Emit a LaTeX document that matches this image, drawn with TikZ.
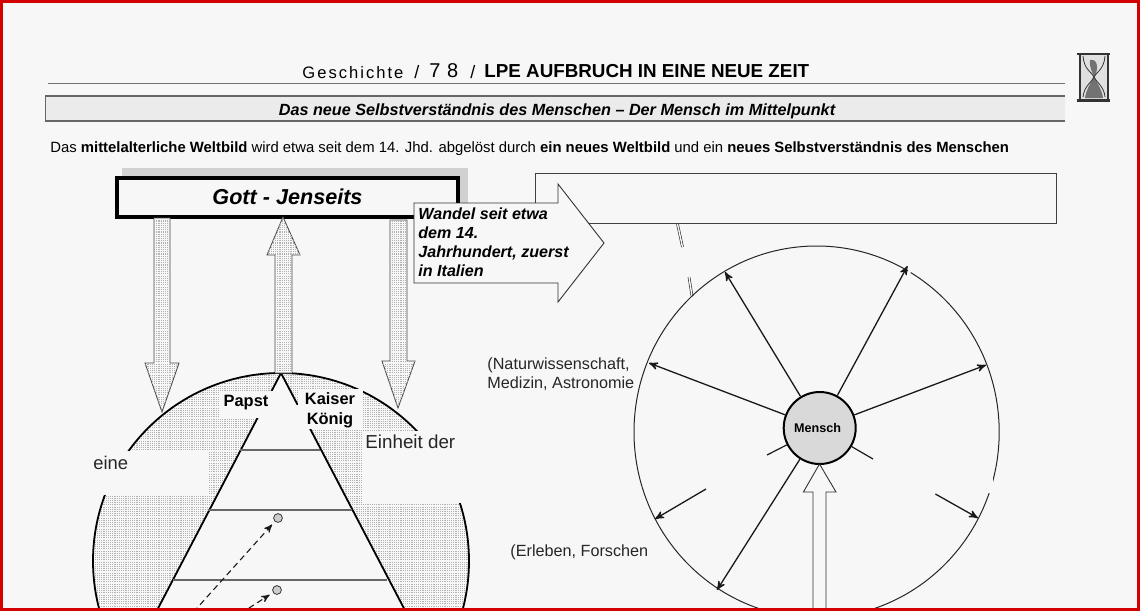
\documentclass[tikz,border=0pt]{standalone}
\usepackage{fontspec}
\setmainfont{Liberation Sans}
\usepackage{xcolor}
\usepackage{tikz}
\usetikzlibrary{arrows}
\usetikzlibrary{patterns}
\definecolor{bgpaper}{HTML}{F7F7F7}
\definecolor{framered}{HTML}{D40000}
\pgfdeclarepatternformonly{finedots}{\pgfqpoint{-.2pt}{-.2pt}}{\pgfqpoint{.9pt}{.9pt}}{\pgfqpoint{1.1pt}{1.1pt}}{
  \pgfpathrectangle{\pgfqpoint{0pt}{0pt}}{\pgfqpoint{.55pt}{.55pt}}\pgfusepath{fill}}
\tikzset{
  stipple/.style={fill=bgpaper,postaction={pattern=finedots,pattern color=black!30}},
  blockarrow/.style={draw=black!70,line width=.45pt,stipple},
  hollowarrow/.style={draw=black!80,line width=.45pt,fill=bgpaper},
  spoke/.style={->,>=stealth',line width=.65pt,black!90},
  spokeline/.style={line width=.6pt,black!90},
  rung/.style={draw=black!60,line width=.6pt},
  dasharrow/.style={->,>=stealth',dash pattern=on 3pt off 2pt,line width=.55pt,black!90},
  patch/.style={fill=bgpaper,draw=none},
  plain label/.style={inner sep=0pt,anchor=west,text=black!85},
  doubletick/.style={draw=black!85,line width=.3pt,double=bgpaper,double distance=.7pt},
}

\begin{document}
\begin{tikzpicture}[x=.5pt,y=-.5pt]
  \useasboundingbox (0,0) rectangle (1140,611);
  \fill[bgpaper] (0,0) rectangle (1140,611);

  \begin{scope}
  \clip (0,0) rectangle (1140,608);

  % header
  \node[plain label,text=black,font=\fontsize{8.3}{8.3}\selectfont\addfontfeatures{LetterSpace=12}] (fach) at (302,72.5) {Geschichte};
  \node[plain label,text=black,font=\fontsize{9}{9}\selectfont] (strich1) at (414,72) {/};
  \node[plain label,text=black,font=\fontsize{10}{10}\selectfont] (klasse) at (429,71) {7\,\,8};
  \node[plain label,text=black,font=\fontsize{9}{9}\selectfont] (strich2) at (470,72) {/};
  \node[plain label,text=black,font=\fontsize{9.4}{9.4}\selectfont\bfseries] (titel) at (484,71) {LPE AUFBRUCH IN EINE NEUE ZEIT};
  \draw[draw=black!55,line width=.5pt] (48,83) -- (1065,83);

  % banner
  \fill[black!8] (45,96) rectangle (1065,121);
  \draw[black!60,line width=1pt] (45,96) -- (1065,96);
  \draw[black!60,line width=1pt] (45,121) -- (1065,121);
  \draw[black!60,line width=.5pt] (45,96) -- (45,121);
  \node[inner sep=0pt,font=\fontsize{8.1}{8.1}\selectfont\bfseries\itshape] (thema) at (557,111.5) {Das neue Selbstverständnis des Menschen -- Der Mensch im Mittelpunkt};

  \node[plain label,text=black,font=\fontsize{7.43}{7.43}\selectfont] (einleitung) at (50,149) {Das \textbf{mittelalterliche Weltbild} wird etwa seit dem 14. Jhd. abgelöst durch \textbf{ein neues Weltbild} und ein \textbf{neues Selbstverständnis des Menschen}};

  % hourglass
  \fill[black!12] (1080,54) rectangle (1108,100);
  \fill[black!55] (1090,60) .. controls (1098,58) and (1099,70) .. (1094,77) .. controls (1098,84) and (1102,90) .. (1103,98) -- (1085,98) .. controls (1086,90) and (1090,84) .. (1094,77) .. controls (1092,72) and (1089,66) .. (1090,60) -- cycle;
  \draw[black!80,line width=.4pt] (1083,56) .. controls (1084,70) and (1092,72) .. (1094,77) .. controls (1092,82) and (1084,86) .. (1083,97);
  \draw[black!80,line width=.4pt] (1105,56) .. controls (1104,70) and (1096,72) .. (1094,77) .. controls (1096,82) and (1104,86) .. (1105,97);
  \draw[black!80,line width=1.1pt] (1077,54) -- (1110,54) (1077,100.5) -- (1110,100.5);
  \draw[black!80,line width=.9pt] (1080,54) -- (1080,100) (1108,54) -- (1108,100);

  % left globe
  \coordinate (kuppe) at (281,373);
  \coordinate (fussl) at (130,662);
  \coordinate (fussr) at (432,662);
  \fill[bgpaper] (281,561) circle [radius=188];
  \path[stipple] (281,561) circle [radius=188];
  \fill[bgpaper] (kuppe) -- (fussl) -- (fussr) -- cycle;
  \draw[black,line width=.9pt] (281,561) circle [radius=188];
  \draw[black,line width=.9pt] (kuppe) -- (fussl) (kuppe) -- (fussr);
  \draw[rung] (240,450) -- (320,450);
  \draw[rung] (208,510) -- (352,510);
  \draw[rung] (173,580) -- (387,580);

  % patches over the globe
  \fill[patch] (88,451) rectangle (208,495);
  \fill[patch] (363,431) rectangle (475,503);
  \fill[patch] (298,389) rectangle (363,429);
  \fill[patch] (290,405) rectangle (310,429);
  \fill[patch] (220,391) rectangle (276,418);

  \node[inner sep=0pt,font=\fontsize{8.2}{8.2}\selectfont\bfseries] (papst) at (246,402.5) {Papst};
  \node[inner sep=0pt,align=center,font=\fontsize{8.2}{10}\selectfont\bfseries] (kaiser) at (330,410) {Kaiser\\König};
  \node[plain label,font=\fontsize{9.4}{9.4}\selectfont] (einheit) at (365,442) {Einheit der};
  \node[plain label,font=\fontsize{9.2}{9.2}\selectfont] (eine) at (93,463) {eine};

  % small circles with dashed arrows
  \node[circle,draw=black!80,fill=black!20,line width=.4pt,inner sep=0pt,minimum size=4.4pt] (punkt1) at (278,518) {};
  \node[circle,draw=black!80,fill=black!20,line width=.4pt,inner sep=0pt,minimum size=4.4pt] (punkt2) at (277,590) {};
  \coordinate (start1) at (180,627);
  \coordinate (start2) at (232,619);
  \draw[dasharrow,shorten >=2pt] (start1) -- (punkt1);
  \draw[dasharrow,shorten >=2pt] (start2) -- (punkt2);

  % top box
  \fill[black!18] (122,168) rectangle (468,209);
  \node[draw=black,fill=bgpaper,line width=2pt,minimum width=170.5pt,minimum height=19.5pt,inner sep=0pt,font=\fontsize{10.8}{10.8}\selectfont\bfseries\itshape] (gott) at (287.5,197) {Gott - Jenseits};

  % block arrows
  \draw[blockarrow] (154,218) -- (170,218) -- (170,363) -- (179,363) -- (162,412) -- (145,363) -- (154,363) -- cycle;
  \draw[blockarrow] (275,373) -- (275,255) -- (267,255) -- (283,217) -- (300,255) -- (292,255) -- (292,373) -- cycle;
  \draw[blockarrow] (390,220) -- (407,220) -- (407,361) -- (415,361) -- (398,408) -- (382,361) -- (390,361) -- cycle;

  % right frame and callout
  \draw[black!75,line width=.5pt] (535.5,173) rectangle (1056,223);
  \draw[hollowarrow] (414,203) -- (558,203) -- (558,184) -- (604,243) -- (558,302) -- (558,283) -- (414,283) -- cycle;
  \node[inner sep=0pt,anchor=north west,align=left,font=\fontsize{8.05}{9.5}\selectfont\bfseries\itshape] (wandel) at (418,207.5) {Wandel seit etwa\\dem 14.\\Jahrhundert, zuerst\\in Italien};

  \coordinate (oben1) at (677.5,224);
  \coordinate (oben2) at (682.5,247);
  \coordinate (unten1) at (689,277);
  \coordinate (unten2) at (692,296);
  \draw[doubletick] (oben1) -- (oben2);
  \draw[doubletick] (unten1) -- (unten2);

  % right wheel
  \draw[black!85,line width=.5pt] (816.6,432) ellipse [x radius=182.6,y radius=186];
  \draw[bgpaper,line width=2.5pt] (990,477) -- (990,493);
  \draw[bgpaper,line width=2pt] (909,270) -- (911,272);
  \node[circle,draw=black,fill=black!15,line width=1pt,minimum size=36pt,inner sep=0pt] (mensch) at (819.7,428) {};
  \node[inner sep=0pt,font=\fontsize{6.3}{6.3}\selectfont\bfseries] (menschtext) at (817.5,428) {Mensch};

  \coordinate (tipa) at (725,272);
  \coordinate (tipb) at (907.5,266);
  \coordinate (tipc) at (649,363);
  \coordinate (tipd) at (986,365);
  \coordinate (tipe) at (717,590);
  \coordinate (ticka) at (767,455);
  \coordinate (tickb) at (873,459);
  \coordinate (freia) at (706,489);
  \coordinate (freib) at (655,519);
  \coordinate (freic) at (935.4,494);
  \coordinate (freid) at (978,518);

  \path[spoke]
    (mensch) edge (tipa)
    (mensch) edge (tipb)
    (mensch) edge (tipc)
    (mensch) edge (tipd)
    (mensch) edge (tipe)
    (freia) edge (freib)
    (freic) edge (freid);
  \draw[spokeline] (mensch) -- (ticka);
  \draw[spokeline] (mensch) -- (tickb);

  \draw[hollowarrow] (813,620) -- (813,492) -- (803.4,492) -- (819.5,464) -- (836,492) -- (826,492) -- (826,620);

  \node[plain label,align=left,font=\fontsize{8.1}{9.5}\selectfont] (natur) at (487,374) {(Naturwissenschaft,\\Medizin, Astronomie};
  \node[plain label,font=\fontsize{8.1}{8.1}\selectfont] (erleben) at (510,552.5) {(Erleben, Forschen};
  \end{scope}

  % red frame
  \draw[framered,line width=1.5pt] (1.5,1.5) rectangle (1138.5,609.5);
\end{tikzpicture}
\end{document}
